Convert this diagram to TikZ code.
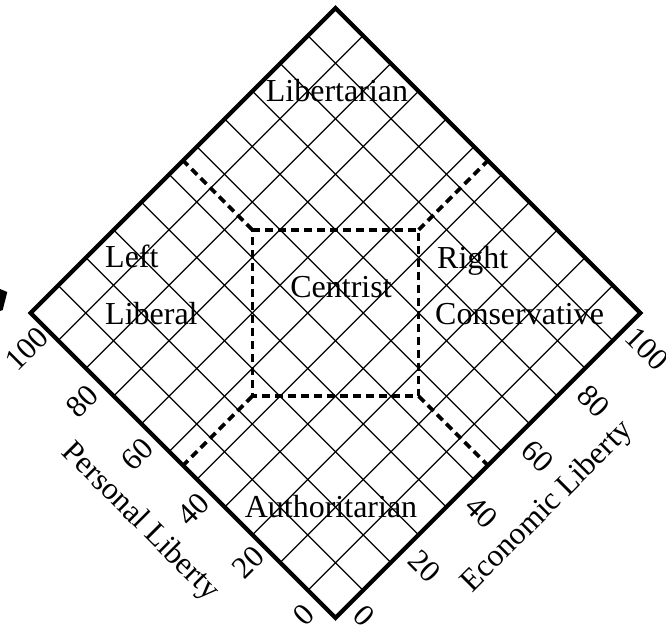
\documentclass[tikz,border=0pt]{standalone}
\usepackage{fontspec}
\setmainfont{Liberation Serif}
\begin{document}
\begin{tikzpicture}[x=1pt,y=-1pt,
  gridline/.style={line width=1.3pt},
  edgeline/.style={line width=4.2pt, line join=miter},
  zone/.style={line width=3.6pt, dash pattern=on 8pt off 5pt},
  lbl/.style={font=\fontsize{32}{36}\selectfont, inner sep=0pt},
  ticklbl/.style={font=\fontsize{31}{34}\selectfont, inner sep=0pt},
  axislbl/.style={font=\fontsize{31.5}{34}\selectfont, inner sep=0pt}]
\useasboundingbox (0,0) rectangle (666,631);
\begin{scope}[shift={(335.5,313)}, scale=27.75]
  \coordinate (T) at (0,-11);
  \coordinate (R) at (11,0);
  \coordinate (B) at (0,11);
  \coordinate (L) at (-11,0);
  % grid
  \foreach \c in {-9,-7,...,9} {
    \draw[gridline] ({(\c-11)/2},{(\c+11)/2}) -- ({(\c+11)/2},{(\c-11)/2});
    \draw[gridline] ({(\c-11)/2},{(-11-\c)/2}) -- ({(\c+11)/2},{(11-\c)/2});
  }
  % dashed zones
  \coordinate (c1) at (-3,-3);
  \coordinate (c2) at (3,-3);
  \coordinate (c3) at (3,3);
  \coordinate (c4) at (-3,3);
  \coordinate (e1) at (-5.5,-5.5);
  \coordinate (e2) at (5.5,-5.5);
  \coordinate (e3) at (5.5,5.5);
  \coordinate (e4) at (-5.5,5.5);
  \draw[zone] (c1) -- (c2) -- (c3) -- (c4) -- cycle;
  \draw[zone] (c1) -- (e1);
  \draw[zone] (c2) -- (e2);
  \draw[zone] (c3) -- (e3);
  \draw[zone] (c4) -- (e4);
  % outline
  \draw[edgeline] (T) -- (R) -- (B) -- (L) -- cycle;
\end{scope}
% small mark at left border
\fill (0,289) -- (7.3,292) -- (2.7,310) -- (0,311) -- cycle;
% region labels
\node[lbl, anchor=base] (lib) at (337,102) {Libertarian};
\node[lbl, anchor=base west] (left) at (105,267) {Left};
\node[lbl, anchor=base west] (liberal) at (105,324) {Liberal};
\node[lbl, anchor=base west] (right) at (437,268) {Right};
\node[lbl, anchor=base west] (cons) at (435,324) {Conservative};
\node[lbl, anchor=base] (cent) at (341,297) {Centrist};
\node[lbl, anchor=base] (auth) at (331,517) {Authoritarian};
% personal liberty ticks
\node[ticklbl, rotate=45] (p0) at (304,615) {0};
\node[ticklbl, rotate=45] (p20) at (248,562) {20};
\node[ticklbl, rotate=45] (p40) at (193,509) {40};
\node[ticklbl, rotate=45] (p60) at (137.5,454.5) {60};
\node[ticklbl, rotate=45] (p80) at (82,401) {80};
\node[ticklbl, rotate=45] (p100) at (27,349) {100};
% economic liberty ticks
\node[ticklbl, rotate=-45] (q0) at (364,616) {0};
\node[ticklbl, rotate=-45] (q20) at (425,566) {20};
\node[ticklbl, rotate=-45] (q40) at (482,512) {40};
\node[ticklbl, rotate=-45] (q60) at (538,456) {60};
\node[ticklbl, rotate=-45] (q80) at (594,401) {80};
\node[ticklbl, rotate=-45] (q100) at (647,349) {100};
% axis titles
\node[axislbl, rotate=-45] (pl) at (140,522) {Personal Liberty};
\node[axislbl, rotate=45] (el) at (547.5,507) {Economic Liberty};
\end{tikzpicture}
\end{document}
